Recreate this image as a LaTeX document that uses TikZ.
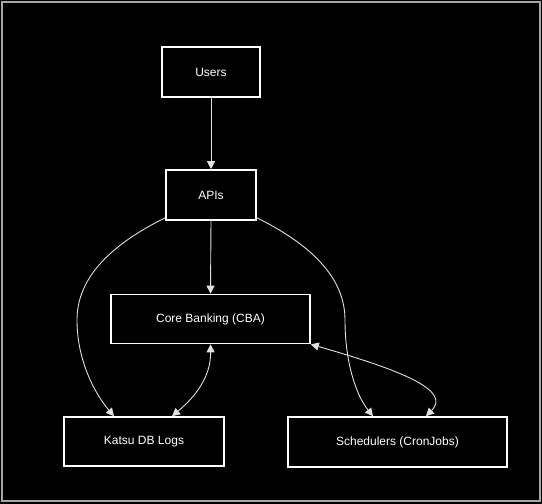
\documentclass[tikz,border=0pt]{standalone}
\usepackage{fontspec}
\setmainfont{Liberation Sans}
\usetikzlibrary{arrows.meta}
\tikzset{
  box/.style={draw=white, line width=1.6pt, fill=black, text=white, inner sep=0pt,
    font=\fontsize{12}{14}\selectfont},
  conn/.style={draw=white!88!black, line width=0.9pt, -{Triangle[length=8pt,width=8pt]}},
  conn2/.style={draw=white!88!black, line width=0.9pt, {Triangle[length=8pt,width=8pt]}-{Triangle[length=8pt,width=8pt]}},
  frame/.style={draw=white!65!black, line width=1.4pt}
}
\begin{document}
\begin{tikzpicture}[x=1pt,y=-1pt]
\useasboundingbox (0,0) rectangle (542,504);
\fill[black] (0,0) rectangle (542,504);
\draw[frame] (2,2) rectangle (540,501);

\node[box, minimum width=98pt, minimum height=50pt] (users) at (211,72) {Users};
\node[box, minimum width=90pt, minimum height=50pt] (apis) at (211,195) {APIs};
\node[box, minimum width=199pt, minimum height=49pt] (core) at (210.5,319) {Core Banking (CBA)};
\node[box, minimum width=160pt, minimum height=49pt] (katsu) at (144,441.5) {Katsu DB Logs};
\node[box, minimum width=219pt, minimum height=50pt] (sched) at (397.5,442) {Schedulers (CronJobs)};

\draw[conn] (users.south) -- (apis.north);
\draw[conn] (apis.south) -- (core.north);
\draw[conn] ([yshift=3pt]apis.south west) .. controls (100,250) and (77,285) .. (77,320)
   .. controls (77,362) and (96,395) .. ([xshift=-30pt]katsu.north);
\draw[conn] ([yshift=3pt]apis.south east) .. controls (322,250) and (345,285) .. (345,320)
   .. controls (345,362) and (356,395) .. ([xshift=-24.5pt]sched.north);
\draw[conn2] (core.south) .. controls (211,377) and (195,397) .. ([xshift=28pt]katsu.north);
\draw[conn2] (core.south east) .. controls (400,370) and (452,390) .. ([xshift=28.5pt]sched.north);
\end{tikzpicture}
\end{document}
